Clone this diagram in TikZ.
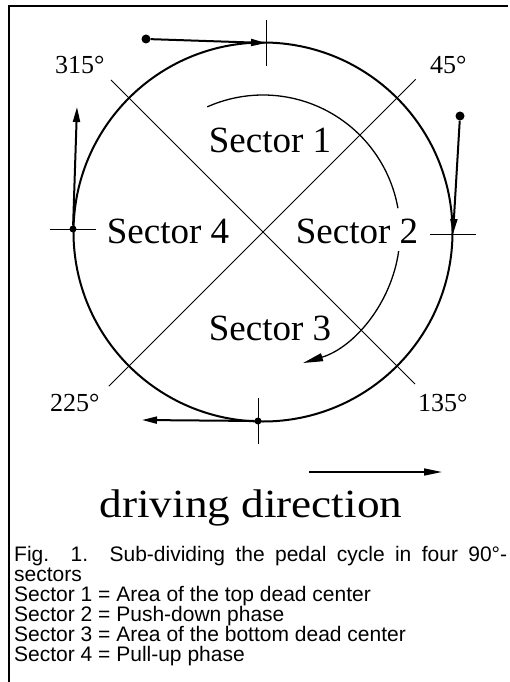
\documentclass[tikz,border=0pt]{standalone}
\usepackage{fontspec}
\setmainfont{Liberation Serif}
\newfontfamily\capsans{Liberation Sans}
\usetikzlibrary{arrows.meta}
\tikzset{
  rim/.style={line width=2pt},
  spoke/.style={line width=1pt},
  tick/.style={line width=1pt},
  crank/.style={line width=2pt,-{Triangle[length=15pt,width=7pt]}},
  turn/.style={line width=1.3pt},
  dot/.style={circle,fill,inner sep=0pt,minimum size=9pt},
  sec/.style={font=\fontsize{37}{40}\selectfont,anchor=base,inner sep=0pt},
  deg/.style={font=\fontsize{26}{30}\selectfont,anchor=base west,inner sep=0pt},
}

\begin{document}
\begin{tikzpicture}[x=1pt,y=-1pt]
  \useasboundingbox (0,0) rectangle (510,682);
  \draw[line width=2pt] (9,682) -- (9,6) -- (508,6);
  \coordinate (c) at (263,232);
  \coordinate (p0) at (266,43);
  \coordinate (p90) at (453,234);
  \coordinate (p180) at (258,421);
  \coordinate (p270) at (73,229);
  \draw[rim] (c) circle[radius=189.5];
  \draw[spoke] ([shift={(-135:215)}]c) -- ([shift={(45:215)}]c);
  \draw[spoke] ([shift={(-45:216)}]c) -- ([shift={(135:218)}]c);
  \foreach \p in {p0,p180}
    \draw[tick] ([yshift=23pt]\p) -- ([yshift=-23pt]\p);
  \foreach \p in {p90,p270}
    \draw[tick] ([xshift=-23pt]\p) -- ([xshift=23pt]\p);
  \node[sec] (s1) at (270,152) {Sector 1};
  \node[sec] (s2) at (357,243) {Sector 2};
  \node[sec] (s3) at (270,340) {Sector 3};
  \node[sec] (s4) at (168,243) {Sector 4};
  \draw[turn] ([shift={(-114:137)}]c) arc[start angle=-114,end angle=-10,radius=137];
  \draw[turn,-{Triangle[length=20pt,width=8pt]}] ([shift={(8:137)}]c) arc[start angle=8,end angle=73,radius=137];
  \node[deg] (a315) at (55,74) {315°};
  \node[deg] (a45) at (430,74) {45°};
  \node[deg] (a225) at (50,411) {225°};
  \node[deg] (a135) at (418,411) {135°};
  \node[dot] (k0) at (146,39) {};
  \node[dot] (k90) at (460,116) {};
  \node[dot,minimum size=7pt] (k180) at (p180) {};
  \node[dot,minimum size=7pt] (k270) at (p270) {};
  \coordinate (e180) at (142,420);
  \coordinate (e270) at (77,107);
  \draw[crank] (k0) -- (p0);
  \draw[crank] (k90) -- (p90);
  \draw[crank] (k180) -- (e180);
  \draw[crank] (k270) -- (e270);
  \coordinate (dirA) at (309,472);
  \coordinate (dirB) at (442,472);
  \draw[line width=1.6pt,-{Triangle[length=18pt,width=7pt]}] (dirA) -- (dirB);
  \node[anchor=base,inner sep=0pt] (drive) at (251,517)
    {\scalebox{1.13}[1]{\fontsize{40}{44}\selectfont driving direction}};
  \node[anchor=base west,inner sep=0pt] (cap) at (14,561)
    {\parbox[t]{493pt}{\capsans\fontsize{21}{20}\selectfont
      Fig. 1. Sub-dividing the pedal cycle in four 90°-\linebreak sectors\\
      Sector 1 = Area of the top dead center\\
      Sector 2 = Push-down phase\\
      Sector 3 = Area of the bottom dead center\\
      Sector 4 = Pull-up phase}};
\end{tikzpicture}
\end{document}
